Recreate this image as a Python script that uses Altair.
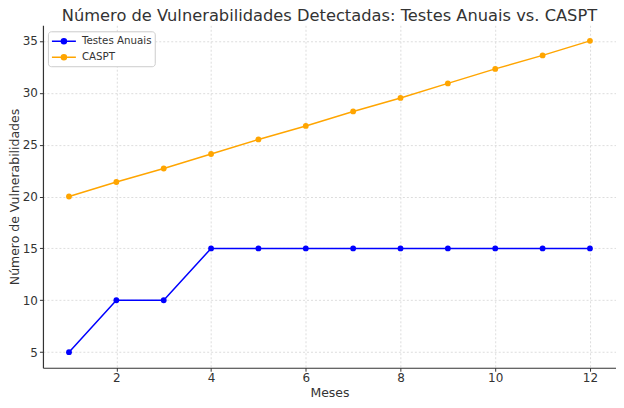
import altair as alt
import pandas as pd

meses = list(range(1, 13))
testes_anuais = [5, 10, 10, 15, 15, 15, 15, 15, 15, 15, 15, 15]
caspt = [20, 21.4, 22.7, 24.1, 25.5, 26.8, 28.2, 29.5, 30.9, 32.3, 33.6, 35]
series_names = ["Testes Anuais", "CASPT"]
series_colors = ["#0000ff", "#ffa500"]

rows = []
for name, vals in zip(series_names, [testes_anuais, caspt]):
    for m, v in zip(meses, vals):
        rows.append({"Meses": m, "Valor": v, "Serie": name})
df = pd.DataFrame(rows)

legend_path = "M-2,0L2,0M0.42,0A0.42,0.42 0 1 1 -0.42,0A0.42,0.42 0 1 1 0.42,0Z"

chart = alt.Chart(df).mark_line(
    strokeWidth=1.5,
    point=alt.OverlayMarkDef(filled=True, size=34, opacity=1),
).encode(
    x=alt.X("Meses:Q", title="Meses",
            scale=alt.Scale(domain=[0.45, 12.55], nice=False, zero=False),
            axis=alt.Axis(values=[2, 4, 6, 8, 10, 12], format="d",
                          labelPadding=1, titlePadding=3)),
    y=alt.Y("Valor:Q", title="Número de Vulnerabilidades",
            scale=alt.Scale(domain=[3.5, 36.5], nice=False, zero=False),
            axis=alt.Axis(values=[5, 10, 15, 20, 25, 30, 35],
                          labelPadding=2, titlePadding=1)),
    color=alt.Color("Serie:N",
                    scale=alt.Scale(domain=series_names, range=series_colors),
                    legend=alt.Legend(title=None, orient="none", legendX=5, legendY=6,
                                      symbolType=legend_path, symbolSize=144,
                                      symbolStrokeWidth=1.5, symbolOffset=6,
                                      labelFontSize=10.3, labelColor="#333",
                                      labelFont="DejaVu Sans",
                                      padding=3, rowPadding=3, labelOffset=11,
                                      strokeColor="#cccccc", fillColor="white",
                                      cornerRadius=3)),
).properties(
    width=574, height=343,
    title=alt.TitleParams("Número de Vulnerabilidades Detectadas: Testes Anuais vs. CASPT",
                          fontSize=16.3, font="DejaVu Sans", fontWeight="normal",
                          color="#333", anchor="middle", offset=1),
    autosize=alt.AutoSizeParams(type="none"),
    padding={"left": 35, "top": 17, "right": 0, "bottom": 32},
).configure_view(stroke=None).configure_axis(
    labelFont="DejaVu Sans", titleFont="DejaVu Sans", labelFontSize=12, titleFontSize=12.5,
    labelColor="#333", titleColor="#333", titleFontWeight="normal",
    domainColor="#333", domainWidth=1.2, tickColor="#333", tickSize=3.5, tickWidth=1,
    gridColor="#d4d4d4", gridDash=[2, 2], gridWidth=0.8,
)

chart.save("out.html", embed_options={"renderer": "svg", "actions": False})
